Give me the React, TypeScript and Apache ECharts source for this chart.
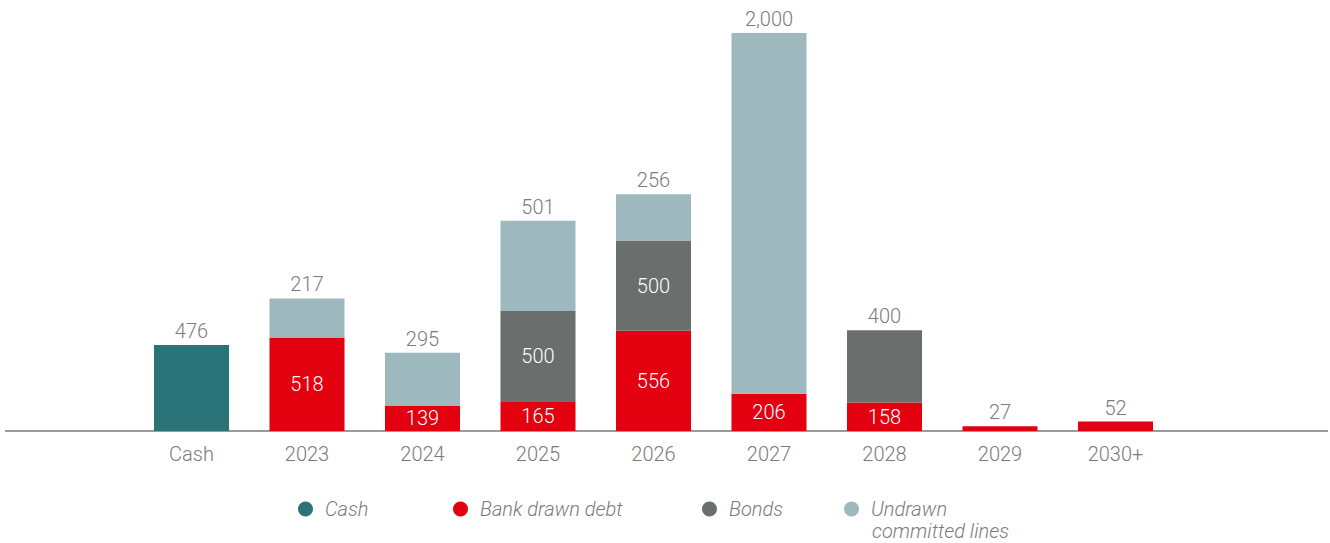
import React, { useEffect, useRef } from "react";
import * as echarts from "echarts";

const categories = ["Cash", "2023", "2024", "2025", "2026", "2027", "2028", "2029", "2030+"];
const cashValues = [476, null, null, null, null, null, null, null, null];
const bankDebtValues = [null, 518, 139, 165, 556, 206, 158, 27, 52];
const bondValues = [null, null, null, 500, 500, null, 400, null, null];
const undrawnValues = [null, 217, 295, 501, 256, 2000, null, null, null];

const seriesNames = ["Cash", "Bank drawn debt", "Bonds", "Undrawn committed lines"];
const legendLines = ["Cash", "Bank drawn debt", "Bonds", "Undrawn"];
const legendSecondLine = "committed lines";
const seriesColors = ["#2a7479", "#e3000f", "#6a6e6c", "#9db9bd"];
const allValues = [cashValues, bankDebtValues, bondValues, undrawnValues];

const FONT = "Roboto, 'Noto Sans', sans-serif";
const GREY = "#7b7b7b";

export default function App() {
  const ref = useRef<HTMLDivElement>(null);
  useEffect(() => {
    document.body.style.margin = "0";
    if (!ref.current) return;
    const chart = echarts.init(ref.current, null, { renderer: "svg" });

    const isTop = (s: number, i: number) => {
      for (let k = s + 1; k < allValues.length; k++) {
        if (allValues[k][i] != null) return false;
      }
      return true;
    };

    const fmt = (v: number) => v.toLocaleString("en-US");

    const series = allValues.map((vals, s) => ({
      name: seriesNames[s],
      type: "bar",
      stack: "total",
      barWidth: 75,
      itemStyle: { color: seriesColors[s] },
      data: vals.map((v, i) => {
        if (v == null) return null;
        const top = isTop(s, i);
        return {
          value: v,
          label: {
            show: true,
            position: top ? "top" : "inside",
            distance: 4,
            color: top ? GREY : "#ffffff",
            fontSize: 20,
            fontFamily: FONT,
            fontWeight: 300,
            formatter: () => fmt(v),
          },
        };
      }),
    }));

    const textStyle = {
      color: GREY,
      fontSize: 20,
      fontFamily: FONT,
      fontStyle: "italic",
      fontWeight: 300,
    };

    const legendBase = {
      icon: "circle",
      itemWidth: 15,
      itemHeight: 15,
      itemGap: 6,
      top: 494,
      textStyle: { ...textStyle, padding: [0, 0, 0, 7] },
    };

    const legendLefts = [293, 448, 697, 839];

    chart.setOption({
      animation: false,
      grid: { left: 133.75, right: 156.75, top: 33, bottom: 112, containLabel: false },
      xAxis: {
        type: "category",
        data: categories,
        axisLine: { show: false },
        axisTick: { show: false },
        axisLabel: { color: GREY, fontSize: 20, fontFamily: FONT, fontWeight: 300, margin: 13 },
      },
      yAxis: {
        type: "value",
        min: 0,
        max: "dataMax",
        show: false,
        splitLine: { show: false },
      },
      legend: seriesNames.map((name, s) => ({
        ...legendBase,
        left: legendLefts[s],
        data: [name],
        formatter: () => legendLines[s],
      })),
      graphic: [
        {
          type: "line",
          shape: { x1: 5, y1: 431, x2: 1328, y2: 431 },
          style: { stroke: "#7a7a7a", lineWidth: 1.5 },
          silent: true,
        },
        {
          type: "text",
          left: 872,
          top: 521,
          silent: true,
          style: { text: legendSecondLine, fill: GREY, font: `italic 300 20px ${FONT}` },
        },
      ],
      series,
    });
    return () => chart.dispose();
  }, []);
  return <div ref={ref} style={{ width: 1330, height: 543 }} />;
}
